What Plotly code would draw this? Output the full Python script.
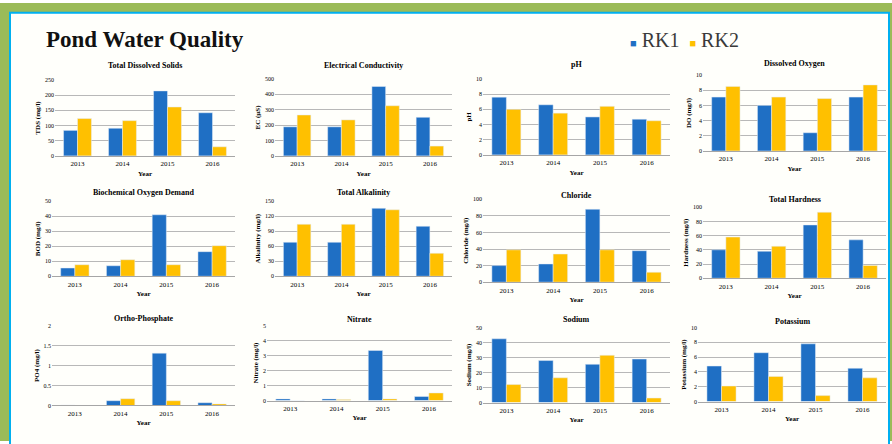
import plotly.graph_objects as go

years = ["2013", "2014", "2015", "2016"]

titles = ["Total Dissolved Solids", "Electrical Conductivity", "pH", "Dissolved Oxygen",
          "Biochemical Oxygen Demand", "Total Alkalinity", "Chloride", "Total Hardness",
          "Ortho-Phosphate", "Nitrate", "Sodium", "Potassium"]
ytitles = ["TDS (mg/l)", "EC (µS)", "pH", "DO (mg/l)",
           "BOD (mg/l)", "Alkalinity (mg/l)", "Chloride (mg/l)", "Hardness (mg/l)",
           "PO4 (mg/l)", "Nitrate (mg/l)", "Sodium (mg/l)", "Potassium (mg/l)"]
series_names = ["RK1", "RK2"]

tds_rk1 = [84, 91, 214, 142]
tds_rk2 = [123, 116, 161, 30]
ec_rk1 = [189, 189, 451, 251]
ec_rk2 = [266, 234, 326, 64]
ph_rk1 = [7.6, 6.6, 5.0, 4.7]
ph_rk2 = [6.0, 5.5, 6.4, 4.5]
do_rk1 = [7.1, 6.0, 2.4, 7.1]
do_rk2 = [8.5, 7.1, 6.9, 8.7]
bod_rk1 = [5.5, 7.0, 41, 16.4]
bod_rk2 = [7.7, 11, 7.7, 20.4]
alk_rk1 = [68, 68, 136, 100]
alk_rk2 = [104, 104, 133, 46]
cl_rk1 = [20, 22, 88, 38]
cl_rk2 = [39, 34, 39, 12]
th_rk1 = [40, 38, 75, 54]
th_rk2 = [58, 45, 93, 18]
po4_rk1 = [0.01, 0.12, 1.31, 0.07]
po4_rk2 = [0.0, 0.17, 0.12, 0.04]
no3_rk1 = [0.11, 0.11, 3.34, 0.27]
no3_rk2 = [0.0, 0.07, 0.11, 0.51]
na_rk1 = [42.5, 28, 25.5, 29]
na_rk2 = [12, 16.5, 31.5, 3]
k_rk1 = [4.8, 6.6, 7.8, 4.5]
k_rk2 = [2.1, 3.4, 0.8, 3.2]

yranges = [(0, 250, 50), (0, 500, 100), (0, 10, 2), (0, 10, 2),
           (0, 50, 10), (0, 150, 30), (0, 100, 20), (0, 100, 20),
           (0, 2, 0.5), (0, 5, 1), (0, 50, 10), (0, 10, 2)]

rk1_all = [tds_rk1, ec_rk1, ph_rk1, do_rk1, bod_rk1, alk_rk1, cl_rk1, th_rk1,
           po4_rk1, no3_rk1, na_rk1, k_rk1]
rk2_all = [tds_rk2, ec_rk2, ph_rk2, do_rk2, bod_rk2, alk_rk2, cl_rk2, th_rk2,
           po4_rk2, no3_rk2, na_rk2, k_rk2]

W, H = 892, 444
# plot areas in pixels: (x0, x1, ytop, ybottom)
boxes = [(55, 235, 78, 155), (275, 452, 77, 155), (483, 670, 77, 154), (703, 886, 73, 150),
         (52, 235, 201, 277), (275, 452, 201, 277), (483, 670, 199, 283), (703, 886, 207, 279),
         (52, 235, 327, 408), (267, 452, 327, 403), (483, 670, 329, 405), (698, 886, 329, 404)]
title_y = [63, 63, 62, 61, 192, 192, 195, 199, 320, 321, 321, 323]

BLUE = "#1f6fc4"
GOLD = "#ffc000"
FONT = "Liberation Serif"

fig = go.Figure()
layout = {}
annotations = []
for i in range(12):
    n = "" if i == 0 else str(i + 1)
    fig.add_trace(go.Bar(x=years, y=rk1_all[i], name=series_names[0], marker_color=BLUE,
                         xaxis="x" + n, yaxis="y" + n, showlegend=False))
    fig.add_trace(go.Bar(x=years, y=rk2_all[i], name=series_names[1], marker_color=GOLD,
                         xaxis="x" + n, yaxis="y" + n, showlegend=False))
    x0, x1, yt, yb = boxes[i]
    lo, hi, dt = yranges[i]
    layout["xaxis" + n] = dict(domain=[x0 / W, x1 / W], anchor="y" + n,
                               showline=True, linecolor="#a6a6a6", linewidth=1,
                               ticks="", ticklabelstandoff=1,
                               tickfont=dict(size=7, family=FONT, color="#000"),
                               title=dict(text="<b>Year</b>", font=dict(size=7, family=FONT, color="#000"),
                                          standoff=3),
                               fixedrange=True)
    layout["yaxis" + n] = dict(domain=[1 - yb / H, 1 - yt / H], anchor="x" + n,
                               range=[lo, hi], dtick=dt, showgrid=True,
                               gridcolor="#b8b8b8", gridwidth=1, zeroline=False,
                               showline=False, ticks="",
                               tickfont=dict(size=6, family=FONT, color="#000"),
                               title=dict(text="<b>" + ytitles[i] + "</b>",
                                          font=dict(size=7, family=FONT, color="#000"), standoff=3),
                               fixedrange=True)
    annotations.append(dict(text="<b>" + titles[i] + "</b>", x=(x0 + x1) / 2 / W,
                            y=1 - title_y[i] / H, xref="paper", yref="paper",
                            xanchor="center", yanchor="middle", showarrow=False,
                            font=dict(size=8, family=FONT, color="#000")))

annotations.append(dict(text="<b>Pond Water Quality</b>", x=44 / W, y=1 - 37 / H,
                        xref="paper", yref="paper", xanchor="left", yanchor="middle",
                        showarrow=False, font=dict(size=23, family=FONT, color="#111")))

legend_text = ("<span style='color:%s;font-size:11px'>■</span> %s  "
               "<span style='color:%s;font-size:11px'>■</span> %s") % (BLUE, series_names[0],
                                                                      GOLD, series_names[1])
annotations.append(dict(text=legend_text, x=628 / W, y=1 - 38 / H,
                        xref="paper", yref="paper", xanchor="left", yanchor="middle",
                        showarrow=False, font=dict(size=20, family=FONT, color="#3a3a3a")))

shapes = [
    dict(type="rect", xref="paper", yref="paper", x0=0, x1=1, y0=0, y1=1,
         fillcolor="#9bbb59", line=dict(width=0), layer="below"),
    dict(type="rect", xref="paper", yref="paper", x0=10 / W, x1=889 / W, y0=-0.05, y1=1 - 10 / H,
         fillcolor="#fffffb", line=dict(color="#00b0f0", width=2), layer="below"),
]

fig.update_layout(
    width=W, height=H, margin=dict(l=0, r=0, t=0, b=0),
    paper_bgcolor="white", plot_bgcolor="rgba(0,0,0,0)",
    barmode="group", bargap=0.38, bargroupgap=0,
    showlegend=False,
    annotations=annotations, shapes=shapes,
    font=dict(family=FONT),
    **layout,
)

fig.write_html("out.html", config={"displayModeBar": False},
               post_script="document.body.style.margin='0';document.body.style.overflow='hidden';")
